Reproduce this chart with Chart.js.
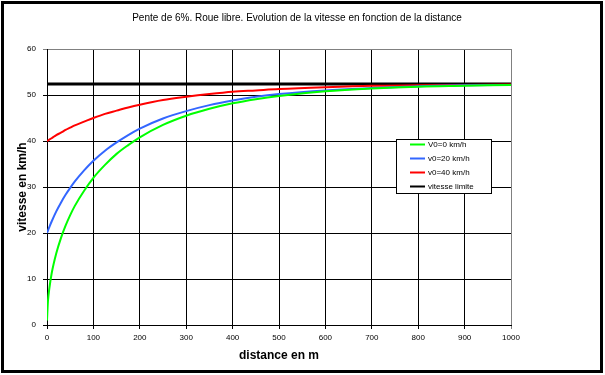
<!DOCTYPE html>
<html>
<head>
<meta charset="utf-8">
<script src="https://cdn.jsdelivr.net/npm/chart.js@4"></script>
<style>
  body { margin: 0; background: #fff; }
  canvas { display: block; }
</style>
</head>
<body>
<canvas id="graphe" width="605" height="375"></canvas>
<script>
// distances (m) et vitesses (km/h)
let distances = [0, 2, 5, 10, 20, 30, 40, 50, 60, 80, 100, 125, 150, 175, 200, 250, 300, 350, 400, 450, 500, 600, 700, 800, 900, 1000];
let vitesseV0_0 = [1, 5.1, 7.9, 11.2, 15.6, 18.9, 21.6, 23.9, 25.9, 29.2, 32.0, 34.8, 37.2, 39.1, 40.8, 43.5, 45.5, 47.0, 48.2, 49.1, 49.8, 50.8, 51.4, 51.8, 52.0, 52.2];
let vitesseV0_20 = [20, 20.5, 21.3, 22.5, 24.7, 26.6, 28.3, 29.8, 31.2, 33.6, 35.7, 37.9, 39.7, 41.3, 42.7, 44.9, 46.5, 47.8, 48.8, 49.6, 50.2, 51.0, 51.5, 51.9, 52.1, 52.2];
let vitesseV0_40 = [40, 40.1, 40.3, 40.6, 41.3, 41.8, 42.4, 42.9, 43.4, 44.2, 45.0, 45.9, 46.6, 47.3, 47.9, 48.9, 49.6, 50.2, 50.7, 51.0, 51.3, 51.7, 52.0, 52.1, 52.2, 52.3];
let limiteDistances = [0, 1000];
let limiteVitesse = [52.4, 52.4];
let labelsSeries = ["V0=0 km/h", "v0=20 km/h", "v0=40 km/h", "vitesse limite"];
let couleurs = ["#00ff00", "#3366ff", "#ff0000", "#000000"];
let titre = "Pente de 6%. Roue libre. Evolution de la vitesse en fonction de la distance";

function points(xs, ys) {
    return xs.map(function (x, i) { return { x: x, y: ys[i] }; });
}

// cadre extérieur, titre et légende dans la zone de tracé
const cadre = {
    id: 'cadre',
    afterDraw(chart) {
        const ctx = chart.ctx;
        ctx.save();
        ctx.strokeStyle = '#000';
        ctx.lineWidth = 3;
        ctx.strokeRect(2.5, 2.5, 599, 369);

        ctx.fillStyle = '#000';
        ctx.font = '10px "Liberation Sans", Arial, sans-serif';
        ctx.textAlign = 'center';
        ctx.textBaseline = 'middle';
        ctx.fillText(titre, 297, 18);

        const bx = 396.5, by = 139.5, bw = 95, bh = 54;
        ctx.fillStyle = '#fff';
        ctx.fillRect(bx, by, bw, bh);
        ctx.lineWidth = 1;
        ctx.strokeRect(bx, by, bw, bh);
        ctx.font = '8px "Liberation Sans", Arial, sans-serif';
        ctx.textAlign = 'left';
        chart.data.datasets.forEach(function (ds, i) {
            const y = 144.5 + i * 14;
            ctx.strokeStyle = ds.borderColor;
            ctx.lineWidth = 2;
            ctx.beginPath();
            ctx.moveTo(410, y);
            ctx.lineTo(425, y);
            ctx.stroke();
            ctx.fillStyle = '#000';
            ctx.fillText(ds.label, 428, y);
        });
        ctx.restore();
    }
};

new Chart(document.getElementById("graphe"), {
    type: 'line',
    data: {
        datasets: [{
            label: labelsSeries[0],
            data: points(distances, vitesseV0_0),
            borderColor: couleurs[0],
            backgroundColor: couleurs[0],
            borderWidth: 2,
            pointRadius: 0,
            cubicInterpolationMode: 'monotone',
            fill: false
        }, {
            label: labelsSeries[1],
            data: points(distances, vitesseV0_20),
            borderColor: couleurs[1],
            backgroundColor: couleurs[1],
            borderWidth: 2,
            pointRadius: 0,
            cubicInterpolationMode: 'monotone',
            fill: false
        }, {
            label: labelsSeries[2],
            data: points(distances, vitesseV0_40),
            borderColor: couleurs[2],
            backgroundColor: couleurs[2],
            borderWidth: 2,
            pointRadius: 0,
            cubicInterpolationMode: 'monotone',
            fill: false
        }, {
            label: labelsSeries[3],
            data: points(limiteDistances, limiteVitesse),
            borderColor: couleurs[3],
            backgroundColor: couleurs[3],
            borderWidth: 3,
            pointRadius: 0,
            fill: false
        }]
    },
    options: {
        responsive: false,
        animation: false,
        events: [],
        layout: { padding: { left: 5, right: 94, top: 49, bottom: 0 } },
        plugins: {
            legend: { display: false },
            tooltip: { enabled: false },
            title: { display: false }
        },
        scales: {
            x: {
                type: 'linear',
                min: 0,
                max: 1000,
                afterFit: function (scale) { scale.height = 50; },
                ticks: {
                    stepSize: 100,
                    color: '#000',
                    padding: 4,
                    maxRotation: 0,
                    callback: function (v) { return String(v); },
                    font: { family: '"Liberation Sans", Arial, sans-serif', size: 8 }
                },
                grid: {
                    color: function (c) { return c.tick && c.tick.value === 1000 ? '#808080' : '#000'; },
                    tickLength: 4,
                    lineWidth: 1
                },
                border: { color: '#000', width: 1 },
                title: {
                    display: true,
                    text: 'distance en m',
                    color: '#000',
                    font: { family: '"Liberation Sans", Arial, sans-serif', size: 12, weight: 'bold' },
                    padding: { top: 4, bottom: 12 }
                }
            },
            y: {
                min: 0,
                max: 60,
                afterFit: function (scale) { scale.width = 42; },
                ticks: {
                    stepSize: 10,
                    color: '#000',
                    padding: 7,
                    font: { family: '"Liberation Sans", Arial, sans-serif', size: 8 }
                },
                grid: {
                    color: function (c) { return c.tick && c.tick.value === 60 ? '#808080' : '#000'; },
                    tickLength: 4,
                    lineWidth: 1
                },
                border: { color: '#000', width: 1 },
                title: {
                    display: true,
                    text: 'vitesse en km/h',
                    color: '#000',
                    font: { family: '"Liberation Sans", Arial, sans-serif', size: 12, weight: 'bold' },
                    padding: { top: 10, bottom: 4 }
                }
            }
        }
    },
    plugins: [cadre]
});
</script>
</body>
</html>
